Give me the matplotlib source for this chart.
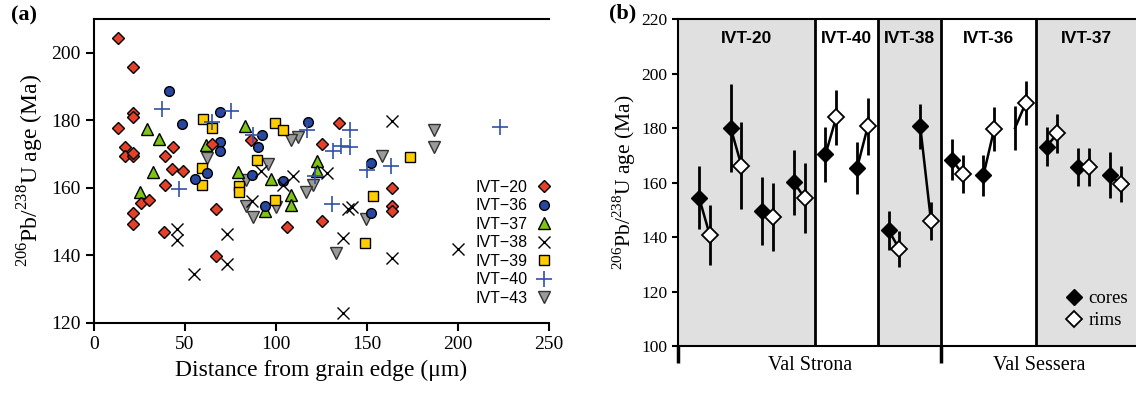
import matplotlib
matplotlib.use("Agg")
import matplotlib.pyplot as plt
import numpy as np

plt.rcParams['font.family'] = ['Liberation Serif', 'DejaVu Serif']
plt.rcParams['mathtext.fontset'] = 'custom'
plt.rcParams['mathtext.rm'] = 'Liberation Serif'

# ---- panel (a): age vs distance from grain edge, per sample ----
ivt20_x = [13, 13, 21.6, 21.6, 21.6, 17, 17, 21.6, 21.6, 21.6, 21.6, 25.8, 30.4, 38.5, 39, 39,
           43.2, 42.7, 48.7, 64.7, 86.1, 67.2, 67.2, 105.9, 125.1, 125.1, 134.8, 163.5, 163.5, 163.5]
ivt20_y = [204.4, 177.7, 195.8, 182.3, 181.1, 172.2, 169.3, 169.3, 170.3, 152.5, 149.2, 155.6, 156.4, 146.8, 169.3, 160.9,
           172.0, 165.5, 165.1, 173.0, 174.2, 153.7, 139.9, 148.3, 150.1, 173.0, 179.3, 159.9, 154.7, 153.3]

ivt36_x = [41.4, 48.5, 69.2, 69.2, 69.2, 55.5, 61.9, 86.6, 90.3, 92.1, 104, 94, 117.5, 152, 152]
ivt36_y = [188.8, 179.0, 182.4, 173.7, 171.0, 162.6, 164.4, 163.9, 172.2, 175.7, 161.9, 154.7, 179.6, 167.3, 152.5]

ivt37_x = [28.9, 35.9, 32.2, 25.3, 61.3, 83, 79.3, 97.5, 122.3, 122.3, 108.3, 108.3, 94]
ivt37_y = [177.4, 174.4, 164.8, 158.9, 172.8, 178.2, 164.6, 162.5, 168.0, 165.0, 157.9, 155.0, 153.2]

ivt38_x = [45.6, 45.6, 54.7, 72.9, 72.9, 86.6, 92, 104, 109.5, 127.9, 136.6, 136.6, 139.7, 141.6, 164, 164, 200]
ivt38_y = [147.9, 144.7, 134.5, 146.3, 137.5, 156.2, 165.0, 160.9, 163.4, 164.5, 145.1, 122.9, 153.8, 154.2, 179.9, 139.2, 141.8]

ivt39_x = [59.7, 64.7, 59.5, 59.5, 89.8, 99.5, 104, 79.5, 79.7, 99.3, 173.6, 153.5, 149]
ivt39_y = [180.4, 177.7, 165.8, 160.8, 168.3, 179.2, 177.0, 160.5, 158.8, 156.5, 169.0, 157.6, 143.8]

ivt40_x = [37.2, 46.5, 64.7, 75.1, 87.5, 116.8, 121.4, 131.5, 135.5, 140.7, 140.7, 130.6, 150.2, 163, 223]
ivt40_y = [183.3, 159.7, 179.6, 182.9, 175.7, 177.0, 163.4, 170.8, 172.5, 172.2, 177.0, 155.2, 165.3, 166.5, 178.0]

ivt43_x = [62.3, 112.3, 108, 95.8, 83.7, 120.5, 116.3, 83.7, 87.5, 100, 133, 149.5, 158, 187, 187]
ivt43_y = [168.8, 175.2, 174.2, 167.1, 162.3, 160.9, 158.8, 154.5, 151.5, 154.3, 140.6, 150.7, 169.3, 177.2, 172.1]

# ---- panel (b): core / rim ages per grain ----
groups = ['IVT-20', 'IVT-40', 'IVT-38', 'IVT-36', 'IVT-37']
pairs_per_group = [4, 2, 2, 3, 3]
shaded = [True, False, True, False, True]
core_age = [154.4, 180.0, 149.5, 160.1, 170.3, 165.4, 142.4, 180.6, 168.4, 162.7, 180.0, 173.2, 165.6, 162.8]
core_err = [11.6, 16.0, 12.5, 12.0, 10.0, 9.5, 7.0, 8.2, 7.5, 7.5, 8.0, 7.0, 7.0, 8.4]
rim_age = [140.6, 166.2, 147.3, 154.3, 183.9, 180.6, 135.6, 145.9, 163.2, 179.6, 189.2, 178.0, 165.6, 159.5]
rim_err = [11.0, 16.0, 12.6, 13.0, 10.0, 10.4, 6.7, 7.0, 7.0, 8.0, 8.0, 7.0, 7.0, 6.7]
core_marker_shown = [True] * 10 + [False] + [True] * 3
regions = ['Val Strona', 'Val Sessera']
region_pairs = [8, 6]

fig = plt.figure(figsize=(11.36, 3.95), dpi=100)

# =================== (a) ===================
ax = fig.add_axes([0.0827, 0.1823, 0.4006, 0.7696])
ms = 7
ax.plot(ivt43_x, ivt43_y, 'v', ms=ms + 1, mfc='#9a9a9a', mec='#333333', mew=1, ls='none', label='IVT\u221243')
ax.plot(ivt39_x, ivt39_y, 's', ms=ms - 0.5, mfc='#ffcc00', mec='black', mew=1, ls='none', label='IVT\u221239')
ax.plot(ivt37_x, ivt37_y, '^', ms=ms + 1, mfc='#7dc414', mec='black', mew=1, ls='none', label='IVT\u221237')
ax.plot(ivt36_x, ivt36_y, 'o', ms=ms, mfc='#2847a0', mec='black', mew=1, ls='none', label='IVT\u221236')
ax.plot(ivt20_x, ivt20_y, 'D', ms=ms - 0.5, mfc='#e5402a', mec='black', mew=1, ls='none', label='IVT\u221220')
ax.plot(ivt38_x, ivt38_y, 'x', ms=ms + 1, mec='black', mew=1, ls='none', label='IVT\u221238')
ax.plot(ivt40_x, ivt40_y, '+', ms=ms + 4, mec='#3052a8', mew=1.2, ls='none', label='IVT\u221240')

ax.set_xlim(0, 250)
ax.set_ylim(120, 210)
ax.set_xticks(np.arange(0, 251, 50))
ax.set_yticks(np.arange(120, 201, 20))
ax.tick_params(direction='out', length=6, width=1.5, labelsize=14)
for side in ['left', 'bottom', 'top']:
    ax.spines[side].set_linewidth(1.5)
ax.spines['right'].set_visible(False)
ax.set_xlabel('Distance from grain edge (\u03bcm)', fontsize=17, labelpad=5)
ax.set_ylabel(r'$^{206}$Pb/$^{238}$U age (Ma)', fontsize=17, labelpad=4)

handles, labels = ax.get_legend_handles_labels()
order = ['IVT\u221220', 'IVT\u221236', 'IVT\u221237', 'IVT\u221238', 'IVT\u221239', 'IVT\u221240', 'IVT\u221243']
hl = dict(zip(labels, handles))
ax.legend([hl[k] for k in order], order, loc='lower right', bbox_to_anchor=(1.03, 0.02),
          frameon=False, markerfirst=False, handlelength=1.0, handletextpad=0.5,
          labelspacing=0.22, borderpad=0.2, prop={'family': 'Liberation Sans', 'size': 11.5})

fig.text(0.010, 0.985, '(a)', fontsize=16, fontweight='bold', va='top')

# =================== (b) ===================
bx = fig.add_axes([0.5968, 0.124, 0.4032, 0.8278])
n_pairs = len(core_age)
centers = np.arange(n_pairs)
xmin, xmax = -0.84, 13.66
bounds = np.cumsum(pairs_per_group)[:-1] - 0.5
edges = [xmin] + list(bounds) + [xmax]

for i, g in enumerate(groups):
    if shaded[i]:
        bx.axvspan(edges[i], edges[i + 1], color='#e0e0e0', lw=0, zorder=0)
    bx.text((edges[i] + edges[i + 1]) / 2, 212.7, g, ha='center', va='center',
            family='Liberation Sans', fontweight='bold', fontsize=12.5)
for b in bounds:
    bx.axvline(b, color='black', lw=2, zorder=1)

core_x = centers - 0.17
rim_x = centers + 0.17
for i in range(n_pairs):
    bx.plot([core_x[i], rim_x[i]], [core_age[i], rim_age[i]], color='black', lw=1.8, zorder=2)
bx.errorbar(core_x, core_age, yerr=core_err, fmt='none', ecolor='black', elinewidth=2, capsize=0, zorder=3)
bx.errorbar(rim_x, rim_age, yerr=rim_err, fmt='none', ecolor='black', elinewidth=2, capsize=0, zorder=3)
shown = np.array(core_marker_shown)
bx.plot(core_x[shown], np.array(core_age)[shown], 'D', ms=8, mfc='black', mec='black', ls='none',
        zorder=4, label='cores')
bx.plot(rim_x, rim_age, 'D', ms=8, mfc='white', mec='black', mew=1.3, ls='none', zorder=4, label='rims')

bx.set_xlim(xmin, xmax)
bx.set_ylim(100, 220)
bx.set_yticks(np.arange(100, 221, 20))
bx.tick_params(axis='y', direction='out', length=4, width=1.5, labelsize=12.5)
reg_edges = [xmin, region_pairs[0] - 0.5, xmax]
bx.set_xticks(reg_edges[:2])
bx.set_xticklabels([])
bx.tick_params(axis='x', direction='out', length=12, width=2.5)
for side in ['left', 'bottom', 'top']:
    bx.spines[side].set_linewidth(1.5)
bx.spines['right'].set_visible(False)
bx.set_ylabel(r'$^{206}$Pb/$^{238}$U age (Ma)', fontsize=15.5)
bx.yaxis.set_label_coords(-0.088, 0.5)

for i, r in enumerate(regions):
    bx.text((reg_edges[i] + reg_edges[i + 1]) / 2, -0.03, r, transform=bx.get_xaxis_transform(),
            ha='center', va='top', fontsize=14.5)

bx.legend(loc='lower right', bbox_to_anchor=(1.02, 0.0), frameon=False, handlelength=0.8,
          handletextpad=0.4, labelspacing=0.25, fontsize=13.5)

fig.text(0.536, 0.99, '(b)', fontsize=16, fontweight='bold', va='top')

fig.savefig('out.png', dpi=100)
